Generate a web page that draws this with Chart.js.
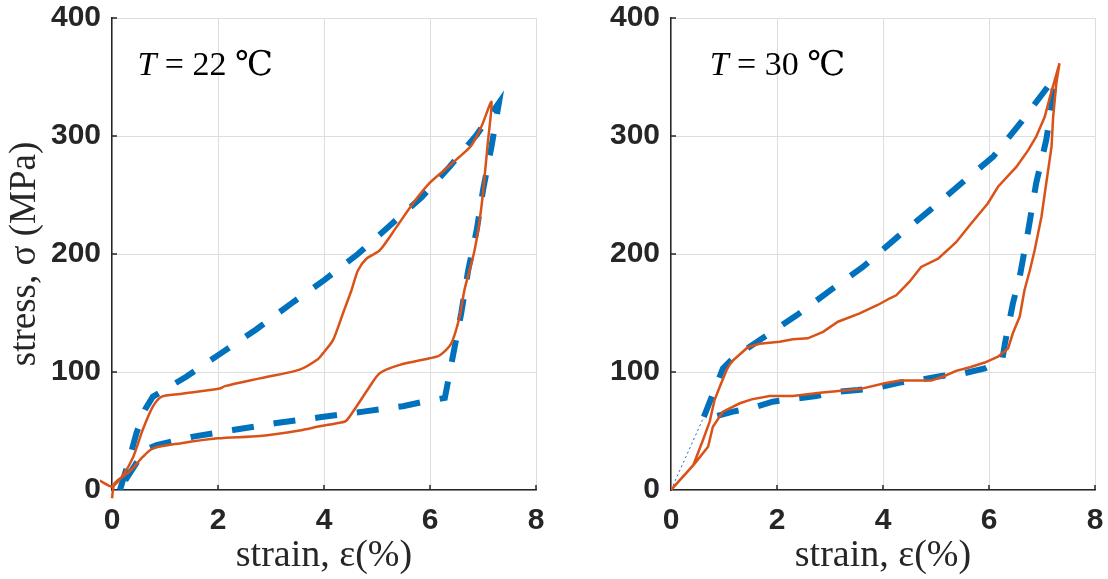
<!DOCTYPE html>
<html>
<head>
<meta charset="utf-8">
<script src="https://cdn.jsdelivr.net/npm/chart.js@4/dist/chart.umd.min.js"></script>
<style>
  body { margin: 0; background: #fff; width: 1108px; height: 579px; position: relative; overflow: hidden; }
  .box { position: absolute; top: 0; height: 579px; }
  #b1 { left: 0; width: 560px; }
  #b2 { left: 560px; width: 548px; }
</style>
</head>
<body>
<div class="box" id="b1"><canvas id="c1"></canvas></div>
<div class="box" id="b2"><canvas id="c2"></canvas></div>
<script>
// ---- data (strain %, stress MPa)
// T = 22 C, experiment
const strain22Exp = [-0.23, 0, 0.21, 0.4, 0.58, 0.77, 0.93, 1.28, 2.03, 2.13, 2.79, 3.54, 3.89, 3.98, 4.17, 4.36, 4.52, 4.64, 4.8, 5.05, 5.37, 5.68, 5.99, 6.31, 6.56, 6.78, 6.97, 7.16,
                     7.09, 6.97, 6.84, 6.65, 6.56, 6.4, 6.18, 5.99, 5.43, 5.05, 4.86, 4.61, 4.42, 4.3, 3.92, 3.54, 2.79, 2.0, 1.28, 0.77, 0.58, 0.33, 0.05, 0];
const stress22Exp = [8, 3, 12.7, 28, 51, 70.6, 79, 81.4, 86, 88, 94.6, 102, 111, 115.8, 127, 150, 169.5, 186, 196, 203, 223, 243, 260, 272.6, 282.5, 292, 308, 329,
                     294, 240, 203, 169.5, 147, 124, 114, 111.6, 106, 99, 87.5, 70.6, 58.7, 57, 54, 50.5, 45.8, 43.8, 39.5, 35.3, 28, 15.5, 5.7, -7];
// T = 22 C, model
const strain22Mod = [0.15, 0.3, 0.46, 0.62, 0.77, 1.4, 2.06, 2.72, 3.38, 4.01, 4.64, 5.24, 5.84, 6.37, 6.88, 7.3,
                     7.16, 7.0, 6.88, 6.72, 6.59, 6.43, 6.31, 6.28, 5.9, 5.49, 4.74, 3.92, 3.07, 2.28, 1.53, 0.84, 0.62, 0.15];
const stress22Mod = [0, 22, 48, 68, 79, 96, 116, 136, 158, 178, 200, 224, 248, 274, 301, 328,
                     291, 254, 220, 186, 150, 113, 85, 78, 75, 71, 66.4, 61.6, 56.5, 50.8, 45.2, 38, 34, 1];
// T = 30 C, experiment
const strain30Exp = [0, 0.42, 0.6, 0.73, 0.82, 0.92, 1.05, 1.14, 1.45, 1.67, 2.05, 2.3, 2.58, 2.87, 3.15, 3.56, 3.91, 4.13, 4.25, 4.5, 4.72, 5.04, 5.38, 5.64, 5.98, 6.17, 6.52, 6.74, 6.89, 7.05, 7.15, 7.33,
                     7.27, 7.21, 7.18, 7.08, 6.99, 6.86, 6.77, 6.67, 6.58, 6.45, 6.36, 6.17, 5.92, 5.64, 5.38, 5.16, 4.91, 4.32, 4.03, 3.56, 2.81, 2.3, 1.86, 1.52, 1.3, 0.98, 0.79, 0.7, 0.45, 0];
const stress30Exp = [0, 21, 42, 58, 76, 87.5, 101.7, 108.7, 121, 124, 125.7, 127.7, 128.5, 134, 142.6, 149.7, 157, 162.5, 165, 176.5, 189, 196, 210, 224.6, 243, 257, 274, 288, 299.4, 316, 333, 361.6,
                     344.6, 316, 291, 260, 231.6, 203, 186, 169.5, 147, 132.8, 120, 113, 108, 104, 101, 96.6, 92.7, 92.7, 90.4, 85.5, 82.5, 79.7, 79.7, 76.8, 73.5, 66.4, 53.6, 36.7, 22.6, 0];
// T = 30 C, model
const strain30Mod = [0.62, 0.98, 1.17, 1.67, 2.37, 3.03, 3.62, 4.28, 4.88, 5.48, 6.08, 6.61, 7.11, 7.24,
                     7.18, 7.08, 6.89, 6.74, 6.58, 6.45, 6.3, 6.25, 5.92, 5.54, 5.1, 4.75, 4.32, 3.97, 3.53, 3.18, 2.74, 2.4, 1.92, 1.61, 1.17, 0.86];
const stress30Mod = [62, 103, 111.6, 127, 148, 170, 189, 214.7, 237, 260, 282.5, 312, 341.8, 348,
                     325, 296.6, 260, 220, 180.8, 158, 124, 110, 103, 99, 96.6, 93.8, 91, 87.5, 84.7, 83.3, 79.7, 77.7, 74.8, 70.6, 66.4, 62.7];
// thin start of the 30 C model line
const strain30ModStart = [0, 0.62];
const stress30ModStart = [0, 62];

const xTicks = [0, 2, 4, 6, 8];
const yTicks = [0, 100, 200, 300, 400];

const BLUE = '#0072BD';
const ORANGE = '#D95319';
const AXIS = '#262626';

function pts(xs, ys) {
    return xs.map((v, i) => ({ x: v, y: ys[i] }));
}

// inward tick marks + temperature label
const extras = {
    id: 'extras',
    afterDraw(chart, args, opts) {
        const { ctx, scales: { x, y } } = chart;
        ctx.save();
        ctx.strokeStyle = AXIS;
        ctx.lineWidth = 1.5;
        xTicks.slice(1).forEach(v => {
            const px = x.getPixelForValue(v);
            ctx.beginPath(); ctx.moveTo(px, y.bottom); ctx.lineTo(px, y.bottom - 5); ctx.stroke();
        });
        yTicks.slice(1).forEach(v => {
            const py = y.getPixelForValue(v);
            ctx.beginPath(); ctx.moveTo(x.left, py); ctx.lineTo(x.left + 5, py); ctx.stroke();
        });
        // label
        let px = x.getPixelForValue(opts.x);
        const py = y.getPixelForValue(opts.y);
        ctx.fillStyle = '#000';
        ctx.textBaseline = 'alphabetic';
        ctx.font = 'italic 34px "Liberation Serif"';
        ctx.fillText('T', px, py);
        px += ctx.measureText('T').width;
        ctx.font = '34px "Liberation Serif", "DejaVu Serif"';
        ctx.fillText(opts.text, px, py);
        ctx.restore();
    }
};

function noPad(s) {
    s.paddingTop = 0; s.paddingBottom = 0; s.paddingLeft = 0; s.paddingRight = 0;
}

function makeOptions(yTitle, label, labelX, padRight, yWidth) {
    const tickFont = { family: 'Liberation Sans', size: 30, weight: 'bold' };
    return {
        responsive: true,
        maintainAspectRatio: false,
        animation: false,
        layout: { padding: { top: 18, right: padRight, left: 0, bottom: 0 } },
        plugins: {
            legend: { display: false },
            tooltip: { enabled: false },
            extras: { text: label, x: labelX, y: 352 }
        },
        elements: { point: { radius: 0 } },
        scales: {
            x: {
                type: 'linear', min: 0, max: 8,
                ticks: { stepSize: 2, color: AXIS, font: tickFont, padding: 13, maxRotation: 0 },
                grid: { color: '#dedede', drawTicks: false, tickLength: 0 },
                border: { color: AXIS, width: 1.5 },
                title: { display: true, text: 'strain, \u03b5(%)', color: AXIS,
                         font: { family: 'Liberation Serif', size: 38 }, padding: { top: 1, bottom: 0 } },
                afterFit: s => { s.height = 89; noPad(s); }
            },
            y: {
                min: 0, max: 400,
                ticks: { stepSize: 100, color: AXIS, font: tickFont, padding: 11 },
                grid: { color: '#dedede', drawTicks: false, tickLength: 0 },
                border: { color: AXIS, width: 1.5 },
                title: { display: !!yTitle, text: yTitle, color: AXIS,
                         font: { family: 'Liberation Serif', size: 37 }, padding: { top: 3, bottom: 0 } },
                afterFit: s => { s.width = yWidth; noPad(s); }
            }
        }
    };
}

new Chart(document.getElementById('c1'), {
    type: 'line',
    data: {
        datasets: [{
            data: pts(strain22Exp, stress22Exp),
            borderColor: ORANGE, borderWidth: 2.5, tension: 0.25, clip: 12
        }, {
            data: pts(strain22Mod, stress22Mod),
            borderColor: BLUE, borderWidth: 6, borderDash: [22, 20], borderCapStyle: 'butt', tension: 0
        }]
    },
    options: makeOptions('stress, \u03c3 (MPa)', ' = 22 \u2103', 0.48, 24, 112),
    plugins: [extras]
});

new Chart(document.getElementById('c2'), {
    type: 'line',
    data: {
        datasets: [{
            data: pts(strain30Exp, stress30Exp),
            borderColor: ORANGE, borderWidth: 2.5, tension: 0
        }, {
            data: pts(strain30Mod, stress30Mod),
            borderColor: BLUE, borderWidth: 6, borderDash: [22, 20], borderCapStyle: 'butt', tension: 0
        }, {
            data: pts(strain30ModStart, stress30ModStart),
            borderColor: BLUE, borderWidth: 1, borderDash: [2, 3], tension: 0
        }]
    },
    options: makeOptions('', ' = 30 \u2103', 0.73, 13, 111),
    plugins: [extras]
});
</script>
</body>
</html>
